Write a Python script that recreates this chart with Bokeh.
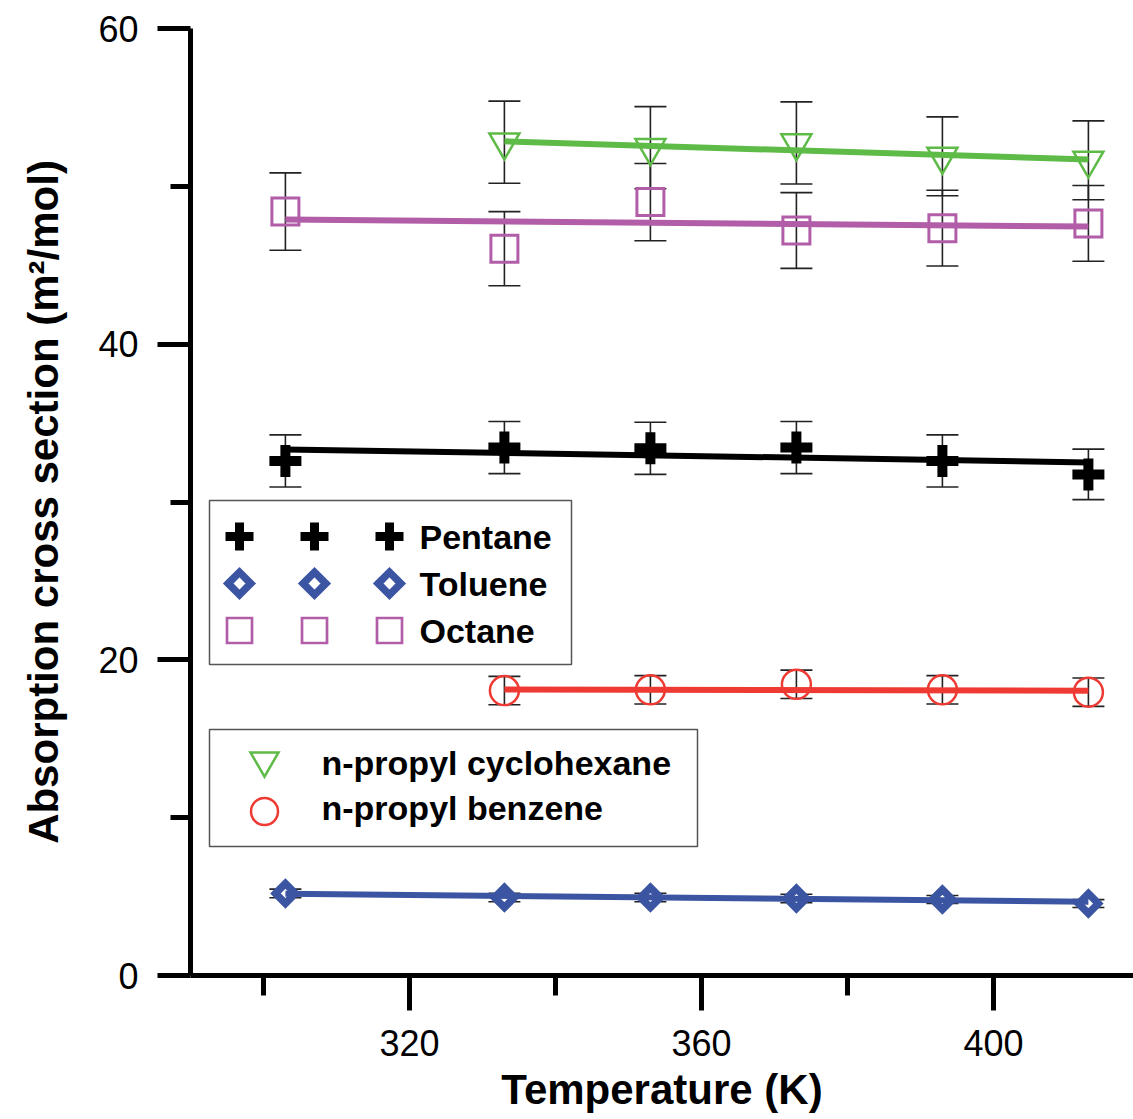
import numpy as np
from bokeh.plotting import figure
from bokeh.models import (Range1d, FixedTicker, Whisker, ColumnDataSource,
                          TeeHead, BoxAnnotation)
from bokeh.embed import file_html
from bokeh.resources import INLINE
from bokeh.core.properties import value

# ---------------- data ----------------
temps = [303, 333, 353, 373, 393, 413]
temps_short = [333, 353, 373, 393, 413]

pentane = [32.6, 33.45, 33.4, 33.45, 32.6, 31.75]
pentane_err = [1.65, 1.65, 1.65, 1.65, 1.65, 1.6]
toluene = [5.2, 4.94, 4.94, 4.88, 4.82, 4.56]
toluene_err = [0.27, 0.27, 0.27, 0.27, 0.25, 0.25]
octane = [48.4, 46.05, 49.0, 47.2, 47.35, 47.65]
octane_err = [2.45, 2.35, 2.45, 2.4, 2.4, 2.4]
cyclohexane = [52.8, 52.45, 52.75, 51.9, 51.65]
cyclohexane_err = [2.6, 2.6, 2.6, 2.5, 2.5]
benzene = [18.05, 18.1, 18.45, 18.1, 17.95]
benzene_err = [0.9, 0.9, 0.9, 0.9, 0.9]

# fitted straight lines (start / end values)
pentane_fit = [33.33, 32.51]
toluene_fit = [5.18, 4.68]
octane_fit = [47.9, 47.45]
cyclohexane_fit = [52.85, 51.7]
benzene_fit = [18.12, 18.04]

x_major = [320, 360, 400]
x_minor = [300, 340, 380]
y_major = [0, 20, 40, 60]
y_minor = [10, 30, 50]

# ---------------- colours ----------------
BLACK = "#000000"
BLUE = "#3B55A3"
PURPLE = "#B25DA8"
GREEN = "#5EBB47"
RED = "#EE3A33"

# ---------------- layout ----------------
FRAME_LEFT, FRAME_TOP = 190, 28
FRAME_W, FRAME_H = 943, 947
PX_PER_K = 7.3
X0 = 290.0
X1 = X0 + FRAME_W / PX_PER_K
Y0, Y1 = 0.0, 60.0
PX_PER_U = FRAME_H / (Y1 - Y0)


def px_x(px):
    return X0 + (px - FRAME_LEFT) / PX_PER_K


def px_y(py):
    return Y1 - (py - FRAME_TOP) / PX_PER_U


FONT = "Liberation Sans"

p = figure(frame_width=FRAME_W, frame_height=FRAME_H,
           x_range=Range1d(X0, X1), y_range=Range1d(Y0, Y1),
           output_backend="svg", toolbar_location=None,
           min_border_left=FRAME_LEFT, min_border_right=0,
           min_border_top=FRAME_TOP, min_border_bottom=144)
p.grid.visible = False
p.outline_line_color = None
p.background_fill_color = "white"
p.border_fill_color = "white"

for ax in (p.xaxis[0], p.yaxis[0]):
    ax.axis_line_width = 5
    ax.axis_line_color = BLACK
    ax.major_tick_line_width = 5
    ax.minor_tick_line_width = 5
    ax.major_tick_line_color = BLACK
    ax.minor_tick_line_color = BLACK
    ax.major_tick_in = 0
    ax.minor_tick_in = 0
    ax.minor_tick_out = 20
    ax.major_label_text_font = FONT
    ax.major_label_text_font_size = "36px"
    ax.major_label_text_color = BLACK
    ax.axis_label_text_font = FONT
    ax.axis_label_text_font_size = "42px"
    ax.axis_label_text_font_style = "bold"
    ax.axis_label_text_color = BLACK

p.xaxis.ticker = FixedTicker(ticks=x_major, minor_ticks=x_minor)
p.yaxis.ticker = FixedTicker(ticks=y_major, minor_ticks=y_minor)
p.xaxis.major_tick_out = 35
p.yaxis.major_tick_out = 33
p.xaxis.major_label_standoff = 19
p.yaxis.major_label_standoff = 19

p.yaxis.axis_label = "Absorption cross section (m²/mol)"
p.yaxis.axis_label_standoff = 28
p.xaxis.axis_label = "Temperature (K)"
p.xaxis.axis_label_standoff = 7

# ---------------- markers ----------------
p.scatter(temps, pentane, marker="cross", size=32, line_width=10,
          line_color=BLACK)
p.scatter(temps, toluene, marker="square", angle=np.pi / 4, size=14,
          line_width=7.5, line_color=BLUE, fill_color="white",
          line_join="miter")
p.scatter(temps, octane, marker="square", size=27, line_width=3,
          line_color=PURPLE, fill_color=None, line_join="miter")
p.scatter(temps_short, cyclohexane, marker="inverted_triangle", size=30,
          line_width=2.5, line_color=GREEN, fill_color=None,
          line_join="miter")
p.scatter(temps_short, benzene, marker="circle", size=29, line_width=2.5,
          line_color=RED, fill_color=None)

# ---------------- error bars ----------------
ex, eu, el = [], [], []
for xs, ys, es in [(temps, pentane, pentane_err), (temps, toluene, toluene_err),
                   (temps, octane, octane_err),
                   (temps_short, cyclohexane, cyclohexane_err),
                   (temps_short, benzene, benzene_err)]:
    for xv, yv, ev in zip(xs, ys, es):
        ex.append(xv)
        eu.append(yv + ev)
        el.append(yv - ev)
err_src = ColumnDataSource(dict(x=ex, upper=eu, lower=el))
p.add_layout(Whisker(source=err_src, base="x", upper="upper", lower="lower",
                     dimension="height", line_color="#222222", line_width=1.6,
                     upper_head=TeeHead(size=32, line_width=1.6,
                                        line_color="#222222"),
                     lower_head=TeeHead(size=32, line_width=1.6,
                                        line_color="#222222")))

# ---------------- fitted lines ----------------
fit_w = 6
p.line([temps[0], temps[-1]], pentane_fit, line_color=BLACK, line_width=fit_w)
p.line([temps[0], temps[-1]], toluene_fit, line_color=BLUE, line_width=fit_w)
p.line([temps[0], temps[-1]], octane_fit, line_color=PURPLE, line_width=fit_w)
p.line([temps_short[0], temps_short[-1]], cyclohexane_fit, line_color=GREEN,
       line_width=fit_w)
p.line([temps_short[0], temps_short[-1]], benzene_fit, line_color=RED,
       line_width=fit_w)

# ---------------- legends ----------------
p.add_layout(BoxAnnotation(left=px_x(209), right=px_x(571), top=px_y(500),
                           bottom=px_y(664), fill_alpha=0,
                           line_color="#555555", line_width=1.5,
                           line_alpha=1))
p.add_layout(BoxAnnotation(left=px_x(209), right=px_x(697), top=px_y(729),
                           bottom=px_y(846), fill_alpha=0,
                           line_color="#555555", line_width=1.5,
                           line_alpha=1))

leg_cols = [239, 314, 389]
leg_rows = [536, 583, 630]
lx = [px_x(c) for c in leg_cols]
p.scatter(lx, [px_y(leg_rows[0])] * 3, marker="cross", size=28,
          line_width=9, line_color=BLACK)
p.scatter(lx, [px_y(leg_rows[1])] * 3, marker="square", angle=np.pi / 4,
          size=16, line_width=7.5, line_color=BLUE, fill_color="white",
          line_join="miter")
p.scatter(lx, [px_y(leg_rows[2])] * 3, marker="square", size=25,
          line_width=2.7, line_color=PURPLE, fill_color=None,
          line_join="miter")
p.text(x=[px_x(419)] * 3, y=[px_y(r) for r in leg_rows],
       text=["Pentane", "Toluene", "Octane"], text_font=value(FONT),
       text_font_size="34px", text_font_style="bold", text_baseline="middle",
       text_align="left", text_color=BLACK)

p.scatter([px_x(264)], [px_y(760)], marker="inverted_triangle", size=28,
          line_width=2.5, line_color=GREEN, fill_color=None,
          line_join="miter")
p.scatter([px_x(264)], [px_y(811)], marker="circle", size=27,
          line_width=2.5, line_color=RED, fill_color=None)
p.text(x=[px_x(321)] * 2, y=[px_y(762), px_y(807)],
       text=["n-propyl cyclohexane", "n-propyl benzene"],
       text_font=value(FONT), text_font_size="34px", text_font_style="bold",
       text_baseline="middle", text_align="left", text_color=BLACK)

open("out.html", "w").write(file_html(p, INLINE))
